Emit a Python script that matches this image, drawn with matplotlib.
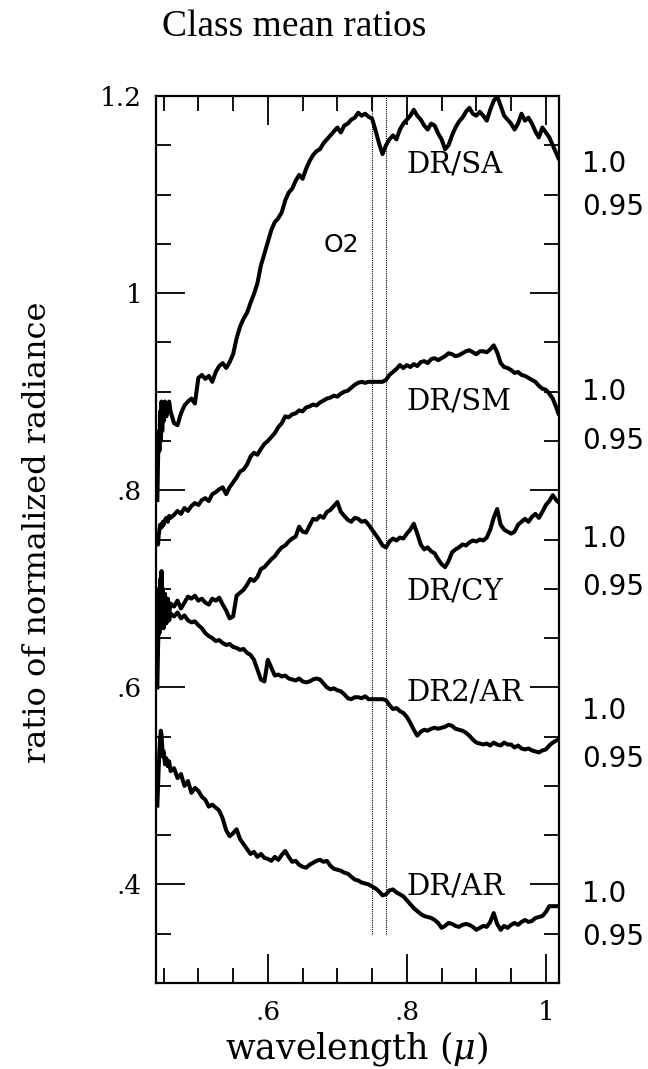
import numpy as np
import matplotlib
matplotlib.use('Agg')
import matplotlib.pyplot as plt
from matplotlib.ticker import MultipleLocator, FixedLocator, FuncFormatter
import matplotlib.transforms as mtransforms

plt.rcParams['font.family'] = ['DejaVu Serif']
plt.rcParams['mathtext.fontset'] = 'dejavuserif'

# wavelength samples (micron): dense at the noisy blue end, then 0.005 steps
wl_start = [0.441, 0.442, 0.443, 0.444, 0.445, 0.446, 0.447, 0.448, 0.449, 0.450,
            0.452, 0.454, 0.456, 0.458, 0.460]
wavelength = np.concatenate([wl_start, np.round(np.arange(0.465, 1.0151, 0.005), 3), [1.018]])

# class mean ratio curves (offset on a common axis)
dr_sa = [0.79, 0.83, 0.86, 0.84, 0.88, 0.85, 0.89, 0.86, 0.88, 0.87, 0.89, 0.875, 0.885, 0.89, 0.88,
         0.868, 0.866, 0.878, 0.886, 0.890, 0.893, 0.888, 0.914,
         0.917, 0.913, 0.916, 0.910, 0.920, 0.926, 0.929, 0.924, 0.930, 0.938,
         0.954, 0.966, 0.974, 0.980, 0.990, 0.999, 1.010, 1.028, 1.040, 1.052,
         1.064, 1.072, 1.076, 1.082, 1.094, 1.102, 1.106, 1.114, 1.120, 1.116,
         1.126, 1.134, 1.140, 1.144, 1.146, 1.152, 1.156, 1.160, 1.164, 1.168,
         1.163, 1.170, 1.172, 1.176, 1.178, 1.183, 1.180, 1.182, 1.179, 1.177,
         1.165, 1.152, 1.141, 1.150, 1.156, 1.160, 1.156, 1.166, 1.172, 1.176,
         1.180, 1.186, 1.180, 1.176, 1.170, 1.166, 1.172, 1.170, 1.162, 1.156,
         1.146, 1.150, 1.160, 1.168, 1.174, 1.178, 1.184, 1.188, 1.182, 1.180,
         1.184, 1.180, 1.175, 1.186, 1.195, 1.200, 1.190, 1.180, 1.176, 1.172,
         1.166, 1.172, 1.182, 1.175, 1.178, 1.172, 1.164, 1.158, 1.168, 1.163,
         1.158, 1.150, 1.142,
         1.137]

dr_sm = [0.745, 0.745, 0.755, 0.760, 0.765, 0.762, 0.766, 0.763, 0.768, 0.765, 0.770, 0.772, 0.768, 0.774, 0.772,
         0.775, 0.779, 0.776, 0.782, 0.779, 0.784, 0.787, 0.785,
         0.790, 0.792, 0.789, 0.796, 0.798, 0.801, 0.803, 0.796, 0.803, 0.808,
         0.813, 0.819, 0.821, 0.826, 0.834, 0.838, 0.836, 0.842, 0.847, 0.850,
         0.854, 0.858, 0.864, 0.868, 0.875, 0.874, 0.877, 0.878, 0.881, 0.880,
         0.884, 0.885, 0.887, 0.886, 0.889, 0.891, 0.893, 0.894, 0.896, 0.895,
         0.898, 0.900, 0.901, 0.904, 0.907, 0.909, 0.910, 0.909, 0.910, 0.910,
         0.910, 0.910, 0.910, 0.912, 0.917, 0.920, 0.923, 0.927, 0.924, 0.927,
         0.925, 0.928, 0.926, 0.930, 0.931, 0.929, 0.933, 0.934, 0.932, 0.934,
         0.936, 0.939, 0.938, 0.936, 0.937, 0.939, 0.941, 0.942, 0.940, 0.938,
         0.941, 0.941, 0.940, 0.943, 0.947, 0.940, 0.929, 0.925, 0.924, 0.922,
         0.919, 0.920, 0.917, 0.916, 0.914, 0.912, 0.910, 0.906, 0.903, 0.902,
         0.898, 0.893, 0.884,
         0.878]

dr_cy = [0.66, 0.67, 0.70, 0.68, 0.71, 0.69, 0.718, 0.685, 0.70, 0.675, 0.695, 0.672, 0.690, 0.675, 0.685,
         0.682, 0.688, 0.680, 0.686, 0.692, 0.690, 0.693, 0.688,
         0.690, 0.686, 0.684, 0.690, 0.688, 0.691, 0.684, 0.678, 0.670, 0.672,
         0.693, 0.696, 0.699, 0.704, 0.710, 0.708, 0.712, 0.720, 0.722, 0.726,
         0.730, 0.733, 0.738, 0.742, 0.744, 0.748, 0.751, 0.753, 0.763, 0.758,
         0.757, 0.764, 0.771, 0.770, 0.774, 0.772, 0.778, 0.780, 0.784, 0.788,
         0.778, 0.774, 0.770, 0.768, 0.772, 0.771, 0.768, 0.769, 0.765, 0.760,
         0.755, 0.750, 0.744, 0.742, 0.748, 0.751, 0.749, 0.752, 0.751, 0.756,
         0.760, 0.766, 0.756, 0.745, 0.740, 0.742, 0.738, 0.736, 0.730, 0.725,
         0.722, 0.728, 0.737, 0.740, 0.742, 0.745, 0.744, 0.747, 0.749, 0.748,
         0.750, 0.749, 0.752, 0.760, 0.772, 0.781, 0.765, 0.760, 0.758, 0.756,
         0.758, 0.765, 0.768, 0.771, 0.768, 0.773, 0.776, 0.772, 0.778, 0.785,
         0.789, 0.795, 0.790,
         0.788]

dr2_ar = [0.60, 0.64, 0.67, 0.655, 0.69, 0.66, 0.70, 0.665, 0.685, 0.66, 0.68, 0.665, 0.678, 0.668, 0.675,
          0.672, 0.676, 0.670, 0.673, 0.668, 0.666, 0.667, 0.663,
          0.660, 0.655, 0.652, 0.650, 0.647, 0.648, 0.645, 0.643, 0.644, 0.641,
          0.640, 0.638, 0.639, 0.635, 0.633, 0.628, 0.618, 0.608, 0.606, 0.628,
          0.620, 0.612, 0.613, 0.611, 0.612, 0.609, 0.608, 0.607, 0.609, 0.606,
          0.605, 0.606, 0.608, 0.609, 0.608, 0.604, 0.600, 0.598, 0.599, 0.597,
          0.596, 0.593, 0.589, 0.588, 0.590, 0.590, 0.589, 0.591, 0.588, 0.588,
          0.588, 0.588, 0.588, 0.587, 0.582, 0.578, 0.579, 0.576, 0.574, 0.570,
          0.564, 0.557, 0.551, 0.555, 0.557, 0.556, 0.558, 0.559, 0.558, 0.559,
          0.560, 0.562, 0.561, 0.558, 0.557, 0.556, 0.554, 0.551, 0.547, 0.544,
          0.543, 0.542, 0.543, 0.541, 0.544, 0.542, 0.541, 0.544, 0.542, 0.542,
          0.539, 0.541, 0.538, 0.537, 0.538, 0.536, 0.535, 0.534, 0.536, 0.537,
          0.541, 0.544, 0.546,
          0.547]

dr_ar = [0.48, 0.50, 0.52, 0.535, 0.548, 0.556, 0.552, 0.54, 0.53, 0.535, 0.522, 0.528, 0.52, 0.525, 0.515,
         0.518, 0.508, 0.512, 0.500, 0.505, 0.493, 0.498, 0.495,
         0.489, 0.486, 0.479, 0.481, 0.478, 0.475, 0.467, 0.455, 0.449, 0.452,
         0.456, 0.446, 0.441, 0.436, 0.431, 0.433, 0.428, 0.431, 0.427, 0.426,
         0.424, 0.428, 0.425, 0.430, 0.434, 0.428, 0.423, 0.424, 0.420, 0.418,
         0.417, 0.420, 0.422, 0.424, 0.425, 0.423, 0.424, 0.419, 0.416, 0.415,
         0.414, 0.412, 0.411, 0.408, 0.405, 0.404, 0.402, 0.401, 0.400, 0.398,
         0.396, 0.393, 0.389, 0.390, 0.394, 0.395, 0.392, 0.390, 0.388, 0.384,
         0.380, 0.376, 0.373, 0.370, 0.368, 0.367, 0.366, 0.364, 0.361, 0.356,
         0.358, 0.361, 0.360, 0.358, 0.357, 0.359, 0.360, 0.359, 0.357, 0.354,
         0.356, 0.358, 0.357, 0.362, 0.371, 0.360, 0.354, 0.358, 0.356, 0.359,
         0.361, 0.359, 0.362, 0.364, 0.362, 0.363, 0.366, 0.367, 0.368, 0.372,
         0.378, 0.378, 0.378,
         0.378]

curves = [dr_sa, dr_sm, dr_cy, dr2_ar, dr_ar]
curve_names = ['DR/SA', 'DR/SM', 'DR/CY', 'DR2/AR', 'DR/AR']
name_y = [1.130, 0.890, 0.697, 0.595, 0.398]
# per-curve scale marks written at the right side
scale_hi_y = [1.131, 0.900, 0.751, 0.576, 0.390]
scale_lo_y = [1.087, 0.850, 0.702, 0.527, 0.347]

o2_band = [0.75, 0.77]

fig = plt.figure(figsize=(6.48, 10.69), dpi=100)
ax = fig.add_axes([0.2407, 0.0804, 0.622, 0.8298])

for c in curves:
    ax.plot(wavelength, c, color='black', lw=2.9, solid_joinstyle='round', zorder=3)

for xb in o2_band:
    ax.plot([xb, xb], [0.35, 1.2], color='black', lw=0.8, ls=(0, (1, 1)), zorder=2)
ax.text(0.706, 1.049, 'O2', family='DejaVu Sans', fontsize=18, ha='center', va='center')

for name, yy in zip(curve_names, name_y):
    ax.text(0.8, yy, name, fontsize=21, ha='left', va='center', zorder=4)

trans = mtransforms.blended_transform_factory(ax.transAxes, ax.transData)
for yh, yl in zip(scale_hi_y, scale_lo_y):
    ax.text(1.057, yh, '1.0', family='DejaVu Sans', fontsize=20, ha='left', va='center',
            transform=trans, clip_on=False)
    ax.text(1.057, yl, '0.95', family='DejaVu Sans', fontsize=20, ha='left', va='center',
            transform=trans, clip_on=False)

ax.set_xlim(0.439, 1.019)
ax.set_ylim(0.3, 1.2)

ax.xaxis.set_major_locator(FixedLocator([0.6, 0.8, 1.0]))
ax.xaxis.set_minor_locator(MultipleLocator(0.05))
ax.yaxis.set_major_locator(FixedLocator([0.4, 0.6, 0.8, 1.0, 1.2]))
ax.yaxis.set_minor_locator(MultipleLocator(0.05))


def short_fmt(v, pos):
    s = '%g' % round(v, 3)
    return s[1:] if s.startswith('0.') else s


ax.xaxis.set_major_formatter(FuncFormatter(short_fmt))
ax.yaxis.set_major_formatter(FuncFormatter(short_fmt))
ax.tick_params(which='both', direction='in', top=True, right=True, width=1.3)
ax.tick_params(which='major', length=21, labelsize=19)
ax.tick_params(which='minor', length=11)
ax.tick_params(axis='y', which='major', pad=10)
ax.tick_params(axis='x', which='major', pad=12)
for sp in ax.spines.values():
    sp.set_linewidth(1.6)

fig.text(0.4545, 0.975, 'Class mean ratios', family='Liberation Serif', fontsize=27,
         ha='center', va='center')
fig.text(0.551, 0.019, r'wavelength ($\mu$)', fontsize=25, ha='center', va='center')
fig.text(0.0586, 0.502, 'ratio of normalized radiance', fontsize=23, rotation=90,
         ha='center', va='center')

fig.savefig('out.png', dpi=100)
